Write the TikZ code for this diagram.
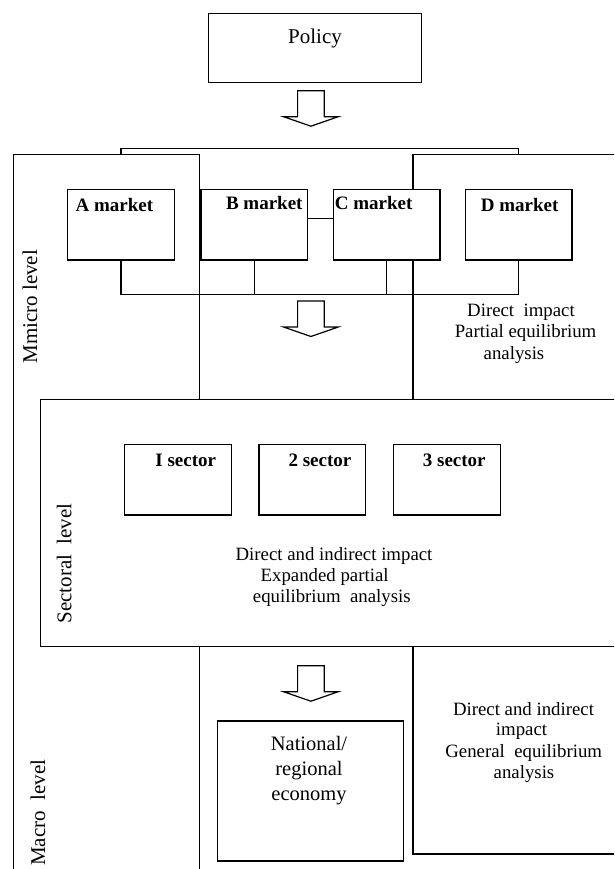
\documentclass[tikz,border=0pt]{standalone}
\usepackage{fontspec}
\setmainfont{Liberation Serif}
\begin{document}
\begin{tikzpicture}[x=1pt,y=-1pt,
  every node/.style={inner sep=0pt, outer sep=0pt},
  frame/.style={line width=1.4pt},
  box/.style={draw, fill=white, line width=1.4pt, anchor=north west, minimum width=106.7pt, minimum height=70.5pt},
  desc/.style={font=\fontsize{18.8}{21}\selectfont, anchor=base},
  boldlabel/.style={font=\fontsize{19}{21}\selectfont\bfseries, anchor=base west},
  bigtext/.style={font=\fontsize{21}{25}\selectfont, anchor=base},
  nattext/.style={font=\fontsize{20.5}{25}\selectfont, anchor=base},
  side/.style={font=\fontsize{21}{25}\selectfont, anchor=base, rotate=90},
  bigarrow/.pic={\draw[line width=1.2pt, fill=white]
     (-13.3,0) -- (13.3,0) -- (13.3,26) -- (27.4,26) -- (0,35.5) -- (-27.4,26) -- (-13.3,26) -- cycle;}
]
\useasboundingbox (0,0) rectangle (614,869);
\clip (0,0) rectangle (614,869);

% level frames
\draw[frame] (13.7,880) -- (13.7,154.7) -- (199.7,154.7) -- (199.7,399.3);
\draw[frame] (413,399.3) -- (413,154.7) -- (620,154.7);
\draw[frame] (620,399.3) -- (40.3,399.3) -- (40.3,646.7) -- (620,646.7);
\draw[frame] (199.7,646.7) -- (199.7,880);
\draw[frame] (413,646.7) -- (413,854) -- (620,854);

% policy
\node[draw, line width=1.4pt, minimum width=213.4pt, minimum height=69.4pt, anchor=north west] (policy) at (208.3,13.3) {};
\node[bigtext] (policyt) at (315,44) {Policy};
\pic (arr1) at (310.9,90.7) {bigarrow};

% markets
\node[box] (A) at (67.7,189.3) {};
\node[box] (B) at (200.9,189.3) {};
\node[box] (C) at (333.2,189.3) {};
\node[box] (D) at (465.2,189.3) {};
\node[boldlabel] (At) at (75.6,211.3) {A market};
\node[boldlabel] (Bt) at (226,209.3) {B market};
\node[boldlabel] (Ct) at (334.8,209.3) {C market};
\node[boldlabel] (Dt) at (480.8,211.3) {D market};

\coordinate (tb) at (0,148.6);
\coordinate (pt) at (0,154.7);
\coordinate (bus) at (0,294.3);
\draw[frame] (A.south |- pt) -- (A.south |- tb) -- (D.south |- tb) -- (D.south |- pt);
\draw[frame] (A.south) -- (A.south |- bus) -- (D.south |- bus) -- (D.south);
\draw[frame] (B.south) -- (B.south |- bus);
\draw[frame] (C.south) -- (C.south |- bus);
\draw[frame] ([yshift=5.8pt]B.east) -- ([yshift=5.8pt]C.west);

\pic (arr2) at (310.9,301) {bigarrow};

\node[desc] (m1) at (521,316.7) {Direct\ \ impact};
\node[desc] (m2) at (525.5,337.3) {Partial equilibrium};
\node[desc] (m3) at (514,359.3) {analysis};

% sectors
\node[box] (s1) at (124.5,444.3) {};
\node[box] (s2) at (258.8,444.3) {};
\node[box] (s3) at (393.5,444.3) {};
\node[boldlabel] (s1t) at (155.4,466) {I sector};
\node[boldlabel] (s2t) at (288.6,466) {2 sector};
\node[boldlabel] (s3t) at (422.9,466) {3 sector};

\node[desc] (d1) at (334,560) {Direct and indirect impact};
\node[desc] (d2) at (324.6,581.7) {Expanded partial};
\node[desc] (d3) at (331.8,602.7) {equilibrium\ \ analysis};

% macro
\pic (arr3) at (310.9,665.7) {bigarrow};
\node[draw, line width=1.4pt, minimum width=186pt, minimum height=140pt, anchor=north west] (nat) at (217.3,721) {};
\node[nattext] (n1) at (309,750) {National/};
\node[nattext] (n2) at (309,775) {regional};
\node[nattext] (n3) at (309,800) {economy};

\node[desc] (g1) at (523.5,715) {Direct and indirect};
\node[desc] (g2) at (521.5,735.7) {impact};
\node[desc] (g3) at (523.7,757.7) {General\ \ equilibrium};
\node[desc] (g4) at (524,778.3) {analysis};

% level labels
\node[side] (micro) at (37.2,306.8) {Mmicro level};
\node[side] (sect) at (71.3,563.5) {Sectoral\ \ level};
\node[side] (macro) at (45,812.7) {Macro\ \ level};
\end{tikzpicture}
\end{document}
